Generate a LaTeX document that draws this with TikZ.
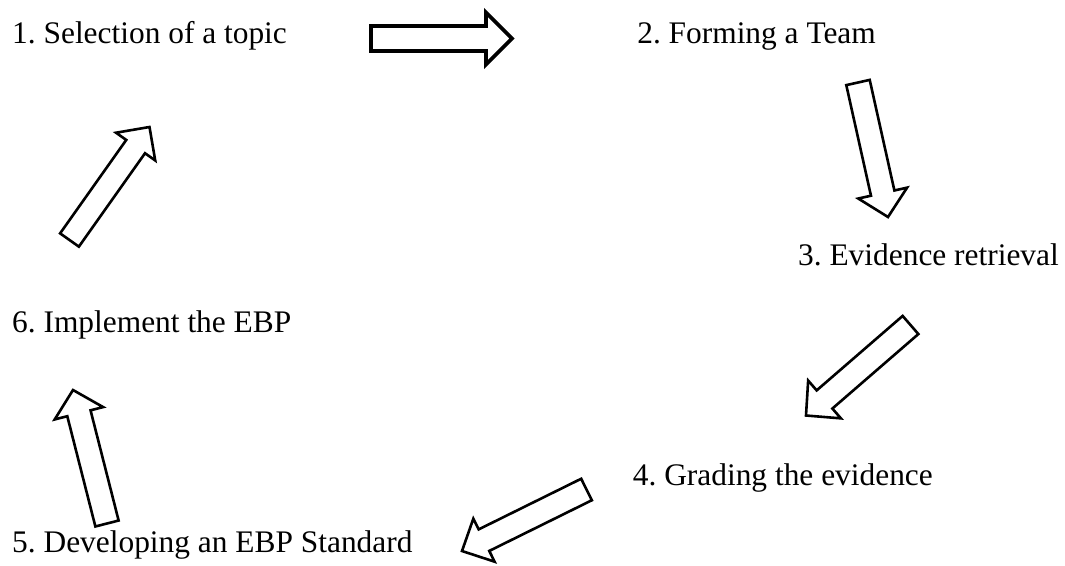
\documentclass[tikz,border=0pt]{standalone}
\usepackage{fontspec}
\setmainfont{Liberation Serif}
\usetikzlibrary{calc}
\frenchspacing
\tikzset{
  lbl/.style={inner sep=0pt, font=\fontsize{31.4}{36}\selectfont},
  blk/.style={draw=black, fill=white, line width=2.6pt, line join=miter},
  blkthick/.style={blk, line width=3.8pt}
}
% #1 style, #2 tail, #3 tip, #4 half body width, #5 half head width, #6 head length
\newcommand\blkarr[6]{%
  \coordinate (hb) at ($(#3)!#6!(#2)$);
  \draw[#1] ($(#2)!#4!90:(#3)$) -- ($(hb)!#4!90:(#3)$) -- ($(hb)!#5!90:(#3)$)
    -- (#3) -- ($(hb)!#5!-90:(#3)$) -- ($(hb)!#4!-90:(#3)$) -- ($(#2)!#4!-90:(#3)$) -- cycle;
}
\begin{document}
\begin{tikzpicture}[x=1pt,y=-1pt]
\useasboundingbox (0,0) rectangle (1065,565);
\node[lbl, anchor=base west] (t1) at (12,43) {1. Selection of a topic};
\node[lbl, anchor=base east] (t2) at (876,43) {2. Forming a Team};
\node[lbl, anchor=base east] (t3) at (1059,265) {3. Evidence retrieval};
\node[lbl, anchor=base east] (t4) at (933,485) {4. Grading the evidence};
\node[lbl, anchor=base west] (t5) at (12,552) {5. Developing an EBP Standard};
\node[lbl, anchor=base west] (t6) at (12,332) {6. Implement the EBP};
% arrow coordinates
\coordinate (a1s) at (371,38.5);  \coordinate (a1e) at (512,38.5);
\coordinate (a2s) at (858,82.5);  \coordinate (a2e) at (888,217);
\coordinate (a3s) at (910.5,325); \coordinate (a3e) at (806,415.5);
\coordinate (a4s) at (586.5,489.5); \coordinate (a4e) at (462,551);
\coordinate (a5s) at (107,523.5); \coordinate (a5e) at (73,390);
\coordinate (a6s) at (69.5,240);  \coordinate (a6e) at (149.5,127);
\blkarr{blkthick}{a1s}{a1e}{12.5pt}{26pt}{26pt}
\blkarr{blk}{a2s}{a2e}{12pt}{25pt}{24.5pt}
\blkarr{blk}{a3s}{a3e}{12pt}{25pt}{24.5pt}
\blkarr{blk}{a4s}{a4e}{12pt}{24pt}{24.5pt}
\blkarr{blk}{a5s}{a5e}{12pt}{25pt}{24pt}
\blkarr{blk}{a6s}{a6e}{11.5pt}{24pt}{24pt}
\end{tikzpicture}
\end{document}
